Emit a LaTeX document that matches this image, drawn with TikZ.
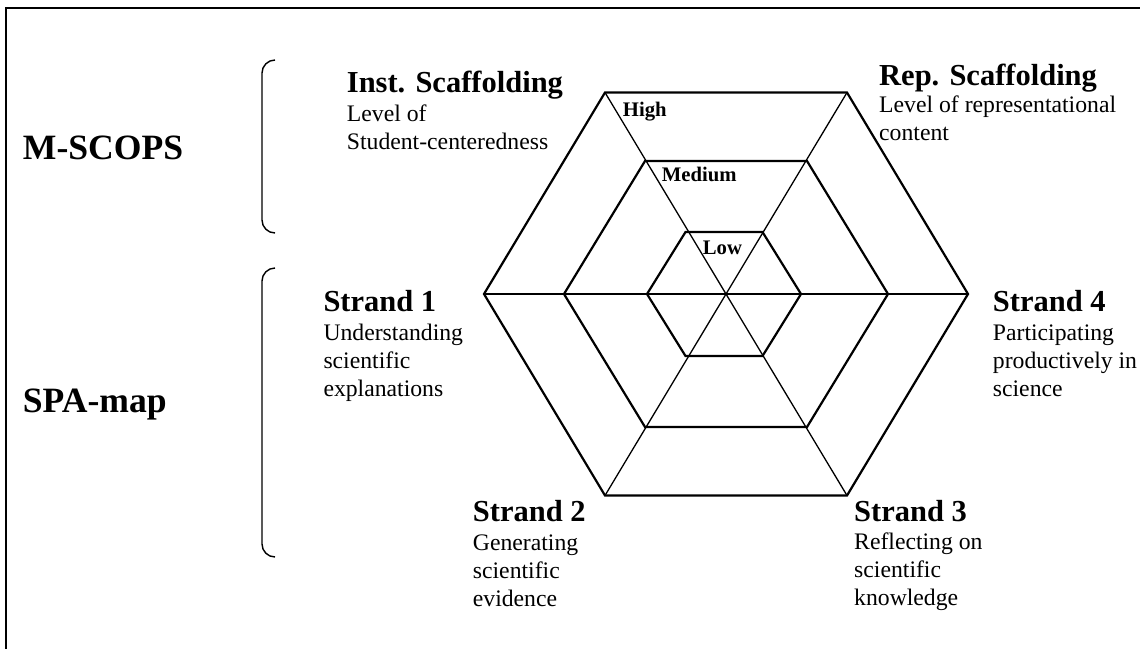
\documentclass[tikz,border=0pt]{standalone}
\usepackage{fontspec}
\setmainfont{Liberation Serif}
\begin{document}
\begin{tikzpicture}[x=1pt,y=-1pt,
  hexedge/.style={line width=2.2pt, line join=miter},
  spoke/.style={line width=1.3pt},
  frameline/.style={line width=2pt},
  bracket/.style={line width=1.4pt, rounded corners=13pt},
  head/.style={font=\fontsize{30.5}{34}\selectfont\bfseries, anchor=base west, inner sep=0pt},
  body/.style={font=\fontsize{23.7}{28}\selectfont, anchor=base west, inner sep=0pt},
  level/.style={font=\fontsize{20.7}{24}\selectfont\bfseries, anchor=base west, inner sep=0pt},
  side/.style={font=\fontsize{35.6}{40}\selectfont\bfseries, anchor=base west, inner sep=0pt}]
\useasboundingbox (0,0) rectangle (1140,649);

% open frame: top and left edges
\coordinate (fTR) at (1140,7.5);
\coordinate (fTL) at (6,7.5);
\coordinate (fBL) at (6,649);
\draw[frameline] (fTR) -- (fTL) -- (fBL);

% hexagon corner points for the three levels (name/centre x/half width/half height)
\foreach \n/\c/\w/\h in {o/726/242/201.5, m/726/162/133, i/724/77/62} {
  \coordinate (\n-E)  at ({\c+\w},294);
  \coordinate (\n-NE) at ({\c+\w/2},{294-\h});
  \coordinate (\n-NW) at ({\c-\w/2},{294-\h});
  \coordinate (\n-W)  at ({\c-\w},294);
  \coordinate (\n-SW) at ({\c-\w/2},{294+\h});
  \coordinate (\n-SE) at ({\c+\w/2},{294+\h});
}

% spokes
\draw[spoke] (o-W) -- (o-E);
\draw[spoke] (o-NW) -- (o-SE);
\draw[spoke] (o-NE) -- (o-SW);

% hexagons
\foreach \n in {o,m,i}
  \draw[hexedge] (\n-E) -- (\n-NE) -- (\n-NW) -- (\n-W) -- (\n-SW) -- (\n-SE) -- cycle;

% level labels
\node[level] (high) at (622.7,116.7) {High};
\node[level] (medium) at (661.7,181.7) {Medium};
\node[level] (low) at (702.7,254) {Low};

% brackets
\coordinate (bA1) at (275,60);
\coordinate (bA2) at (262,146);
\coordinate (bA3) at (275,233);
\draw[bracket] (bA1) -| (bA2) |- (bA3);
\coordinate (bB1) at (275,268);
\coordinate (bB2) at (262,410);
\coordinate (bB3) at (275,557);
\draw[bracket] (bB1) -| (bB2) |- (bB3);

% group names
\node[side] (mscops) at (22.7,159.3) {M-SCOPS};
\node[side] (spamap) at (22.7,412.7) {SPA-map};

% headings with their description lines
\newcommand\desclines[4]{%
  \foreach \t [count=\k] in {#4}
    \node[body] (#1-\k) at (#2,{#3+28*(\k-1)}) {\t};}

\node[head] (inst) at (346.7,92.7) {Inst. Scaffolding};
\desclines{inst}{346.7}{121}{Level of,Student-centeredness}

\node[head] (rep) at (879,85) {Rep. Scaffolding};
\desclines{rep}{879}{112.7}{Level of representational,content}

\node[head] (s1) at (323.3,311.7) {Strand 1};
\desclines{s1}{323.3}{340}{Understanding,scientific,explanations}

\node[head] (s4) at (992.7,311.7) {Strand 4};
\desclines{s4}{992.7}{340}{Participating,productively in,science}

\node[head] (s2) at (472.7,521.7) {Strand 2};
\desclines{s2}{472.7}{550}{Generating,scientific,evidence}

\node[head] (s3) at (854,521.7) {Strand 3};
\desclines{s3}{854}{549.3}{Reflecting on,scientific,knowledge}
\end{tikzpicture}
\end{document}
